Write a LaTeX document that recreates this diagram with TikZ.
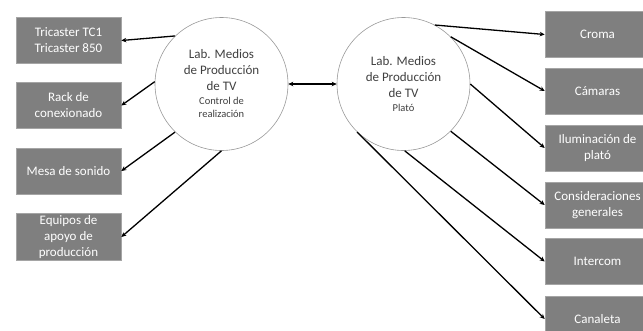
\documentclass[tikz,border=0pt]{standalone}
\usepackage{fontspec}
\setmainfont{Carlito}
\usetikzlibrary{arrows.meta}
\definecolor{cajagris}{HTML}{7F7F7F}
\definecolor{textogris}{HTML}{404040}
\tikzset{
  caja/.style={fill=cajagris,draw=cajagris!70!white,line width=0.6pt,minimum width=105pt,
    minimum height=46pt,inner sep=2pt,align=center,text=white,
    font=\fontsize{13}{16}\selectfont},
  lab/.style={circle,draw=gray!80,line width=0.6pt,fill=white,minimum size=133pt,inner sep=0pt,
    align=center,text=textogris,font=\fontsize{13}{16}\selectfont},
  flecha/.style={line width=1.3pt,-{Stealth[length=5pt,width=4.5pt]}},
  sub/.style={font=\fontsize{10.5}{12.5}\selectfont}
}
\begin{document}
\begin{tikzpicture}[x=1pt,y=-1pt]
\useasboundingbox (0,0) rectangle (643,330);
\clip (0,0) rectangle (643,330);
% laboratorios
\node[lab] (control) at (221.5,84) {Lab. Medios\\de Producción\\de TV\\[-2pt]{\fontsize{10.5}{12.5}\selectfont Control de}\\[-3pt]{\fontsize{10.5}{12.5}\selectfont realización}};
\node[lab] (plato) at (403.5,84) {Lab. Medios\\de Producción\\de TV\\[-2pt]{\fontsize{10.5}{12.5}\selectfont Plató}};
% control de realizacion
\node[caja] (tc) at (68.5,40.5) {Tricaster TC1\\Tricaster 850};
\node[caja] (rack) at (68.5,105.5) {Rack de\\conexionado};
\node[caja] (mesa) at (68.5,171) {Mesa de sonido};
\node[caja] (equipos) at (68.5,237) {Equipos de\\apoyo de\\producción};
% plato
\node[caja] (croma) at (597.5,34.5) {Croma};
\node[caja] (camaras) at (597.5,91) {Cámaras};
\node[caja] (ilum) at (597.5,148) {Iluminación de\\plató};
\node[caja] (consid) at (597.5,205) {Consideraciones\\generales};
\node[caja] (intercom) at (597.5,261.5) {Intercom};
\node[caja] (canaleta) at (597.5,319) {Canaleta};
% flechas
\foreach \a/\b in {134/tc,178/rack,226/mesa,270/equipos}
  \draw[flecha] (control.\a) -- (\b.east);
\foreach \a/\b in {62/croma,45/camaras,0/ilum,-45/consid,-89/intercom,-134/canaleta}
  \draw[flecha] (plato.\a) -- (\b.west);
\draw[flecha,{Stealth[length=5pt,width=4.5pt]}-{Stealth[length=5pt,width=4.5pt]}] (control.east) -- (plato.west);
\end{tikzpicture}
\end{document}
